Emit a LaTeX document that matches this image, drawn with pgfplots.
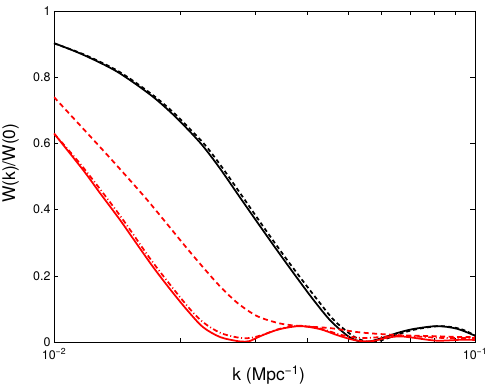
\documentclass[border=0pt]{standalone}
\usepackage{fontspec}
\setmainfont{TeX Gyre Heros}
\usepackage{pgfplots}
\pgfplotsset{compat=1.18}
\begin{document}
\begin{tikzpicture}
\begin{axis}[
  scale only axis,
  width=421bp, height=331bp,
  xmode=log,
  xmin=0.01, xmax=0.1,
  ymin=0, ymax=1,
  xtick={0.01,0.1},
  xticklabels={10\textsuperscript{−2},10\textsuperscript{−1}},
  minor xtick={0.02,0.03,0.04,0.05,0.06,0.07,0.08,0.09},
  ytick={0,0.2,0.4,0.6,0.8,1},
  yticklabels={0,0.2,0.4,0.6,0.8,1},
  /pgf/number format/assume math mode=true,
  tick align=inside,
  major tick length=4.5bp, minor tick length=4.5bp,
  tick style={black, line width=0.5bp},
  axis line style={line width=0.6bp},
  tick label style={font=\fontsize{12.5}{14}\selectfont},
  xticklabel style={yshift=-3bp},
  label style={font=\fontsize{17.5}{19}\selectfont},
  xlabel={k (Mpc\textsuperscript{−1})},
  ylabel={W(k)/W(0)},
  xlabel style={at={(axis description cs:0.51,-0.1)}, anchor=center},
  ylabel style={at={(axis description cs:-0.103,0.54)}, anchor=center},
  every axis plot/.append style={line width=1.75bp, smooth},
]
% black solid
\addplot[black] coordinates {
 (0.01,0.903) (0.01172,0.868) (0.01411,0.817) (0.01690,0.748) (0.01886,0.696)
 (0.020696,0.645) (0.02259,0.592) (0.024800,0.524) (0.02765,0.437) (0.03086,0.350)
 (0.03441,0.265) (0.037776,0.194) (0.041233,0.129) (0.04525,0.066) (0.04966,0.020)
 (0.05244,0.004) (0.054473,0.0) (0.056908,0.003) (0.061802,0.017) (0.065267,0.027)
 (0.071237,0.039) (0.081234,0.048) (0.09063,0.040) (0.1,0.019)
};
% black dashed
\addplot[black, dash pattern=on 4bp off 3bp] coordinates {
 (0.01,0.902) (0.011815,0.868) (0.014268,0.817) (0.017092,0.748) (0.019121,0.696)
 (0.020986,0.645) (0.022963,0.592) (0.025199,0.524) (0.028121,0.437) (0.031361,0.350)
 (0.034989,0.265) (0.038506,0.194) (0.042146,0.129) (0.046236,0.066) (0.051047,0.020)
 (0.054200,0.004) (0.056622,0.0) (0.059156,0.003) (0.063862,0.017) (0.067081,0.027)
 (0.072828,0.039) (0.08256,0.048) (0.092118,0.040) (0.1,0.020)
};
% red solid
\addplot[red] coordinates {
 (0.01,0.630) (0.01172,0.520) (0.01286,0.450) (0.014347,0.369) (0.01540,0.313)
 (0.017187,0.227) (0.01886,0.160) (0.020696,0.097) (0.02259,0.045) (0.024800,0.015)
 (0.027208,0.003) (0.02850,0.001) (0.02921,0.003) (0.031361,0.021) (0.03441,0.039)
 (0.038400,0.048) (0.042833,0.039) (0.046997,0.021) (0.05048,0.009) (0.05331,0.003)
 (0.05725,0.003) (0.061802,0.013) (0.06635,0.017) (0.071237,0.013) (0.081234,0.004)
 (0.093648,0.007) (0.1,0.006)
};
% red dash-dot
\addplot[red, dash pattern=on 5bp off 2.5bp on 1bp off 2.5bp] coordinates {
 (0.01,0.630) (0.01172,0.528) (0.014347,0.382) (0.017187,0.240) (0.020696,0.110)
 (0.02259,0.060) (0.024800,0.028) (0.027208,0.014) (0.02921,0.012) (0.031361,0.022)
 (0.03441,0.040) (0.038400,0.049) (0.042833,0.041) (0.046997,0.025) (0.05048,0.016)
 (0.05470,0.012) (0.061125,0.016) (0.06635,0.019) (0.074024,0.016) (0.084869,0.012)
 (0.1,0.012)
};
% red dashed
\addplot[red, dash pattern=on 5bp off 3.5bp] coordinates {
 (0.01,0.740) (0.01172,0.645) (0.013365,0.566) (0.014904,0.499) (0.016633,0.430)
 (0.01855,0.357) (0.020696,0.283) (0.02259,0.226) (0.024800,0.168) (0.027208,0.119)
 (0.02969,0.085) (0.031361,0.071) (0.03441,0.056) (0.037776,0.049) (0.04525,0.042)
 (0.05331,0.029) (0.065267,0.021) (0.07818,0.018) (0.093648,0.015) (0.1,0.015)
};
\end{axis}
\pgfresetboundingbox
\path (-54bp,-44bp) rectangle (437bp,342bp);
\end{tikzpicture}
\end{document}
